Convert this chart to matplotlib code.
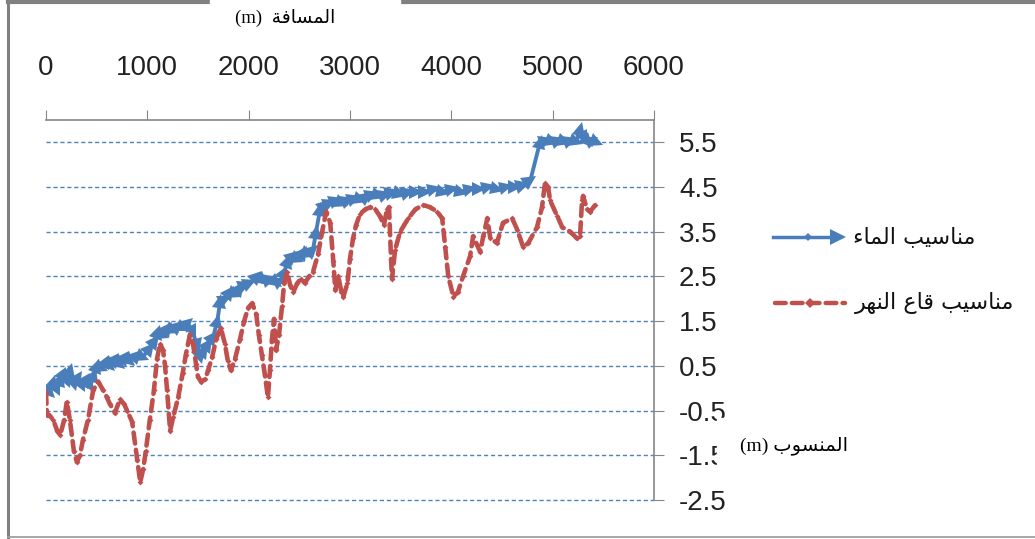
import numpy as np
import matplotlib.pyplot as plt
from matplotlib.lines import Line2D
from matplotlib.patches import Rectangle
from matplotlib.markers import MarkerStyle
from matplotlib.transforms import Affine2D

plt.rcParams['axes.unicode_minus'] = False

# distance along the river (m) and water level (m)
water_x = [0, 40, 70, 110, 140, 170, 205, 235, 275, 315, 355, 395, 435, 475, 505,
           555, 590, 630, 680, 730, 780, 830, 900, 955, 1025, 1075, 1105, 1155, 1205,
           1255, 1305, 1350, 1400, 1450, 1490, 1520, 1560, 1600, 1650, 1690, 1720,
           1765, 1815, 1865, 1915, 1965, 2015, 2085, 2140, 2210, 2270, 2310, 2350,
           2390, 2440, 2490, 2535, 2585, 2635, 2665, 2705, 2755, 2805, 2865, 2920,
           2980, 3040, 3100, 3160, 3220, 3280, 3345, 3415, 3495, 3575, 3655, 3740,
           3830, 3920, 4010, 4095, 4185, 4275, 4365, 4450, 4540, 4630, 4710, 4780,
           4875, 4935, 4995, 5055, 5115, 5175, 5235, 5270, 5310, 5350, 5390, 5440]
water_y = [0.0, -0.1, 0.15, -0.05, 0.2, 0.35, 0.15, 0.4, 0.1, 0.25, 0.05, 0.2, 0.05,
           0.3, 0.5, 0.45, 0.6, 0.5, 0.65, 0.55, 0.7, 0.6, 0.75, 0.7, 0.9, 1.05, 1.25,
           1.2, 1.35, 1.3, 1.4, 1.35, 1.45, 1.25, 0.95, 0.7, 0.85, 1.0, 1.15, 1.5,
           1.95, 2.0, 2.15, 2.1, 2.25, 2.3, 2.35, 2.5, 2.4, 2.45, 2.35, 2.4, 2.6,
           2.85, 2.95, 2.9, 3.05, 3.0, 3.1, 3.5, 4.0, 4.1, 4.15, 4.2, 4.15, 4.2,
           4.25, 4.2, 4.3, 4.35, 4.3, 4.35, 4.4, 4.35, 4.4, 4.4, 4.4, 4.45, 4.4,
           4.45, 4.4, 4.45, 4.45, 4.5, 4.45, 4.5, 4.5, 4.55, 4.65, 5.5, 5.55, 5.5,
           5.55, 5.5, 5.55, 5.5, 5.8, 5.6, 5.5, 5.55, 5.5]

# riverbed level (m)
bed_x = [0, 10, 30, 70, 110, 140, 180, 205, 235, 275, 305, 335, 365, 415, 465, 515,
         565, 600, 630, 680, 730, 770, 800, 850, 900, 930, 960, 985, 1025, 1065,
         1095, 1125, 1155, 1175, 1195, 1225, 1255, 1305, 1350, 1380, 1420, 1450,
         1480, 1500, 1530, 1570, 1600, 1640, 1680, 1725, 1765, 1795, 1825, 1865,
         1915, 1955, 1995, 2035, 2075, 2100, 2130, 2160, 2190, 2210, 2230, 2250,
         2270, 2300, 2330, 2350, 2380, 2410, 2440, 2480, 2515, 2555, 2595, 2635,
         2685, 2725, 2765, 2805, 2835, 2855, 2885, 2915, 2935, 2975, 3000, 3030,
         3060, 3100, 3150, 3200, 3250, 3295, 3335, 3365, 3385, 3405, 3415, 3445,
         3495, 3575, 3645, 3720, 3790, 3860, 3910, 3940, 3970, 4020, 4065, 4115,
         4185, 4215, 4255, 4285, 4315, 4355, 4385, 4450, 4510, 4600, 4650, 4710,
         4760, 4845, 4895, 4925, 4955, 4975, 5045, 5095, 5175, 5240, 5270, 5290,
         5300, 5340, 5370, 5420]
bed_y = [-0.1, -0.6, -0.6, -0.7, -0.95, -1.05, -0.7, -0.3, -0.7, -1.4, -1.65, -1.5,
         -1.15, -0.7, -0.05, 0.15, -0.05, -0.2, -0.35, -0.55, -0.25, -0.35, -0.5,
         -0.75, -1.6, -2.1, -1.8, -1.4, -0.7, -0.05, 0.65, 1.0, 0.85, 0.5, -0.05,
         -0.95, -0.65, -0.2, 0.35, 0.75, 1.2, 1.0, 0.55, 0.25, 0.15, 0.2, 0.4, 0.7,
         1.1, 1.35, 1.0, 0.6, 0.4, 0.65, 1.1, 1.5, 1.8, 1.9, 1.65, 1.2, 0.75, 0.3,
         -0.2, 0.4, 1.1, 1.55, 0.85, 1.2, 1.85, 2.35, 2.6, 2.3, 2.15, 2.35, 2.45,
         2.35, 2.5, 2.6, 3.0, 3.5, 3.95, 3.7, 2.85, 2.2, 2.5, 2.15, 2.05, 2.35,
         2.9, 3.35, 3.65, 3.9, 4.0, 4.05, 4.0, 3.85, 3.65, 4.0, 4.05, 2.9, 2.45,
         3.1, 3.5, 3.8, 4.0, 4.1, 4.05, 3.95, 3.8, 3.15, 2.5, 2.05, 2.15, 2.5, 2.95,
         3.4, 3.2, 3.05, 3.4, 3.8, 3.35, 3.25, 3.7, 3.8, 3.55, 3.15, 3.25, 3.6,
         4.05, 4.6, 4.5, 4.2, 3.85, 3.6, 3.5, 3.35, 3.4, 4.2, 4.3, 4.0, 3.95, 4.1]

x_ticks = [0, 1000, 2000, 3000, 4000, 5000, 6000]
y_ticks = [-2.5, -1.5, -0.5, 0.5, 1.5, 2.5, 3.5, 4.5, 5.5]
series_names = ['مناسيب الماء', 'مناسيب قاع النهر']
x_title = 'المسافة'
y_title = 'المنسوب'

BLUE = '#4A7EBB'
RED = '#C0504D'
GRID = '#4F81BD'
AXIS = '#868686'

# contextual letter forms: isolated, final, initial, medial
FORMS = {
    '\u0621': ('\uFE80', None, None, None),
    '\u0627': ('\uFE8D', '\uFE8E', None, None),
    '\u0628': ('\uFE8F', '\uFE90', '\uFE91', '\uFE92'),
    '\u0629': ('\uFE93', '\uFE94', None, None),
    '\u0631': ('\uFEAD', '\uFEAE', None, None),
    '\u0633': ('\uFEB1', '\uFEB2', '\uFEB3', '\uFEB4'),
    '\u0639': ('\uFEC9', '\uFECA', '\uFECB', '\uFECC'),
    '\u0641': ('\uFED1', '\uFED2', '\uFED3', '\uFED4'),
    '\u0642': ('\uFED5', '\uFED6', '\uFED7', '\uFED8'),
    '\u0644': ('\uFEDD', '\uFEDE', '\uFEDF', '\uFEE0'),
    '\u0645': ('\uFEE1', '\uFEE2', '\uFEE3', '\uFEE4'),
    '\u0646': ('\uFEE5', '\uFEE6', '\uFEE7', '\uFEE8'),
    '\u0647': ('\uFEE9', '\uFEEA', '\uFEEB', '\uFEEC'),
    '\u0648': ('\uFEED', '\uFEEE', None, None),
    '\u064A': ('\uFEF1', '\uFEF2', '\uFEF3', '\uFEF4'),
}


def arabic(text):
    # join letters and put them in display (left to right) order
    out = []
    for i, ch in enumerate(text):
        f = FORMS.get(ch)
        if f is None:
            out.append(ch)
            continue
        prev = text[i - 1] if i > 0 else ''
        nxt = text[i + 1] if i < len(text) - 1 else ''
        jp = prev in FORMS and FORMS[prev][2] is not None and f[1] is not None
        jn = f[2] is not None and nxt in FORMS and FORMS[nxt][1] is not None
        if jp and jn:
            out.append(f[3])
        elif jp:
            out.append(f[1])
        elif jn:
            out.append(f[2])
        else:
            out.append(f[0])
    return ''.join(reversed(out))


W, H = 1035, 539
fig = plt.figure(figsize=(W / 100, H / 100), dpi=100)


def fx(px):
    return px / W


def fy(py):
    return 1 - py / H


ax = fig.add_axes([fx(46), fy(500), fx(654 - 46), (500 - 120) / H])
ax.set_xlim(0, 6000)
ax.set_ylim(-2.5, 6.0)

ax.plot(water_x, water_y, color=BLUE, lw=2.8, zorder=3)
# arrow head at the end of every segment, turned along the segment
pts = ax.transData.transform(np.column_stack([water_x, water_y]))
for i in range(1, len(pts)):
    dx, dy = pts[i] - pts[i - 1]
    ang = np.degrees(np.arctan2(dy, dx))
    head = MarkerStyle('>', transform=Affine2D().rotate_deg(ang))
    ax.plot(water_x[i], water_y[i], ls='none', marker=head, ms=10, mew=0,
            color=BLUE, zorder=3)

ax.plot(bed_x, bed_y, color=RED, lw=3.3, ls=(0, (2.4, 1.4)), dash_capstyle='round',
        marker='D', ms=3, mew=0, zorder=4)

ax.xaxis.tick_top()
ax.yaxis.tick_right()
ax.set_xticks(x_ticks)
ax.set_yticks(y_ticks)
ax.set_yticklabels([f'{v:.1f}' for v in y_ticks])
for s in ['left', 'bottom']:
    ax.spines[s].set_visible(False)
for s in ['top', 'right']:
    ax.spines[s].set_color(AXIS)
    ax.spines[s].set_linewidth(1.2)
ax.grid(axis='y', color=GRID, ls=(0, (3, 2)), lw=1)
ax.grid(axis='x', visible=False)
for gl in ax.get_ygridlines():
    gl.set_clip_on(False)
ax.tick_params(axis='x', direction='out', length=7, color=AXIS, pad=21, labelsize=20)
ax.tick_params(axis='y', direction='out', length=7, color=AXIS, pad=11, labelsize=20)
for lab in ax.get_xticklabels() + ax.get_yticklabels():
    lab.set_fontfamily('Liberation Sans')
    lab.set_color('#222222')

# frame around the whole chart
fig.add_artist(Line2D([fx(8), fx(8)], [fy(1), fy(537)], color='#808080', lw=2.2))
fig.add_artist(Line2D([fx(8), 1], [fy(1.5), fy(1.5)], color='#808080', lw=3))
fig.add_artist(Line2D([fx(8), 1], [fy(537), fy(537)], color='#a0a0a0', lw=1.3))

# axis titles in white boxes
fig.add_artist(Rectangle((fx(210), fy(32)), fx(190), 32 / H, color='white', zorder=5))
fig.text(fx(285), fy(18), '(m)  ' + arabic(x_title), ha='center', va='center',
         fontsize=13.5, family=['Liberation Serif', 'DejaVu Sans'], zorder=6)
fig.add_artist(Rectangle((fx(717), fy(475)), fx(140), 57 / H, color='white', zorder=5))
fig.text(fx(740), fy(446), '(m) ' + arabic(y_title), ha='left', va='center',
         fontsize=14, family=['Liberation Serif', 'DejaVu Sans'], zorder=6)

# legend
ly = [237, 303]
fig.add_artist(Line2D([fx(773), fx(838)], [fy(ly[0])] * 2, color=BLUE, lw=2.5))
fig.add_artist(Line2D([fx(808)], [fy(ly[0])], color=BLUE, marker='D', ms=4, mew=0))
fig.add_artist(Line2D([fx(838)], [fy(ly[0])], color=BLUE, marker='>', ms=11, mew=0))
fig.add_artist(Line2D([fx(775), fx(845)], [fy(ly[1])] * 2, color=RED, lw=3.2,
                      ls=(0, (2.4, 1.4)), dash_capstyle='round'))
fig.add_artist(Line2D([fx(810)], [fy(ly[1])], color=RED, marker='D', ms=5, mew=0))
fig.text(fx(853), fy(ly[0]), arabic(series_names[0]), ha='left', va='center',
         fontsize=16, family='DejaVu Sans', color='#111111')
fig.text(fx(855), fy(ly[1]), arabic(series_names[1]), ha='left', va='center',
         fontsize=16, family='DejaVu Sans', color='#111111')

fig.savefig('out.png', dpi=100)
